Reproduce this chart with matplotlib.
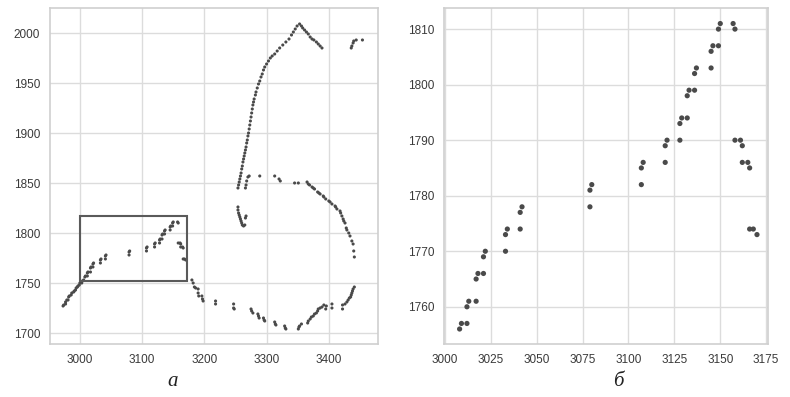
import matplotlib
matplotlib.use("Agg")
import matplotlib.pyplot as plt
from matplotlib.patches import Rectangle

# ---- data: contour points inside the zoom box (panel б) ----
box_x = [3008, 3009, 3012, 3012, 3013, 3017, 3017, 3018, 3021, 3021, 3022, 3033, 3033,
         3034, 3041, 3041, 3042, 3079, 3079, 3080, 3107, 3107, 3108, 3120, 3120, 3121,
         3128, 3128, 3129, 3132, 3132, 3133, 3136, 3136, 3137, 3145, 3145, 3146, 3149,
         3149, 3150, 3157, 3158, 3158, 3161, 3162, 3162, 3165, 3166, 3166, 3168, 3170]
box_y = [1756, 1757, 1757, 1760, 1761, 1761, 1765, 1766, 1766, 1769, 1770, 1770, 1773,
         1774, 1774, 1777, 1778, 1778, 1781, 1782, 1782, 1785, 1786, 1786, 1789, 1790,
         1790, 1793, 1794, 1794, 1798, 1799, 1799, 1802, 1803, 1803, 1806, 1807, 1807,
         1810, 1811, 1811, 1810, 1790, 1790, 1789, 1786, 1786, 1785, 1774, 1774, 1773]

# ---- remaining contour points (panel а) ----
low_left_x = [2973, 2974, 2977, 2977, 2979, 2981, 2982, 2983, 2986, 2987, 2990, 2991,
              2993, 2994, 2996, 2997, 2999, 3000, 3003, 3004, 3006]
low_left_y = [1727, 1728, 1729, 1731, 1733, 1733, 1736, 1737, 1738, 1740, 1741, 1742,
              1743, 1745, 1746, 1747, 1748, 1750, 1750, 1752, 1753]

bottom_x = [3180, 3182, 3184, 3186, 3190, 3190, 3191, 3196, 3197, 3198,
            3218, 3218, 3247, 3247, 3248, 3275, 3276, 3278, 3286, 3287, 3288, 3295,
            3296, 3297, 3313, 3314, 3315, 3329, 3330, 3331, 3351, 3352, 3353, 3356,
            3366, 3367, 3370, 3372, 3375, 3377, 3380, 3382, 3383, 3386, 3389, 3392,
            3395, 3396, 3405, 3405, 3422, 3422, 3426, 3429, 3431, 3433, 3435, 3436,
            3437, 3438, 3439, 3441]
bottom_y = [1753, 1750, 1746, 1745, 1744, 1740, 1737, 1737, 1734, 1732,
            1732, 1729, 1729, 1725, 1724, 1724, 1722, 1720, 1719, 1717, 1715, 1715,
            1713, 1712, 1711, 1709, 1708, 1707, 1705, 1704, 1704, 1706, 1707, 1709,
            1710, 1712, 1714, 1716, 1717, 1719, 1720, 1722, 1724, 1725, 1726, 1728,
            1724, 1727, 1729, 1725, 1728, 1724, 1729, 1731, 1733, 1735, 1736, 1738,
            1740, 1742, 1744, 1746]

right_arc_x = [3441, 3440, 3439, 3437, 3434, 3432, 3429, 3428, 3426, 3424, 3423, 3421,
               3419, 3418, 3413, 3411, 3410, 3405, 3402, 3400, 3395, 3392, 3391, 3386,
               3384, 3382, 3377, 3375, 3373, 3369, 3367, 3365, 3351, 3345, 3322, 3320,
               3313, 3289, 3272]
right_arc_y = [1776, 1782, 1789, 1792, 1797, 1800, 1803, 1805, 1810, 1812, 1814, 1817,
               1820, 1822, 1824, 1826, 1827, 1829, 1831, 1832, 1834, 1836, 1837, 1839,
               1840, 1841, 1844, 1845, 1846, 1848, 1849, 1851, 1850, 1850, 1852, 1854,
               1857, 1857, 1857]

cluster_x = [3254, 3254, 3255, 3256, 3257, 3258, 3259, 3260, 3261, 3263, 3265, 3266, 3267,
             3266, 3267, 3268, 3270]
cluster_y = [1826, 1823, 1820, 1818, 1816, 1814, 1812, 1810, 1808, 1807, 1808, 1815, 1817,
             1845, 1848, 1852, 1856]

big_arc_x = [3254, 3255, 3256, 3257, 3258, 3259, 3260, 3261, 3262, 3263, 3264, 3265, 3266,
             3267, 3268, 3269, 3270, 3271, 3272, 3273, 3274, 3275, 3276, 3277, 3278, 3279,
             3280, 3282, 3283, 3285, 3287, 3289, 3291, 3293, 3295, 3297, 3300, 3303, 3306,
             3309, 3313, 3317, 3321, 3326, 3331, 3336, 3340, 3343, 3346, 3349, 3353,
             3356, 3358, 3361, 3364, 3367, 3370, 3373, 3376, 3380, 3383, 3386, 3389]
big_arc_y = [1845, 1848, 1851, 1854, 1857, 1860, 1864, 1867, 1871, 1874, 1877, 1880, 1883,
             1886, 1890, 1893, 1897, 1900, 1904, 1908, 1912, 1916, 1920, 1924, 1928, 1931,
             1934, 1938, 1941, 1945, 1949, 1952, 1956, 1959, 1963, 1966, 1969, 1972, 1975,
             1977, 1979, 1982, 1985, 1988, 1991, 1994, 1998, 2001, 2004, 2007, 2009,
             2007, 2005, 2003, 2001, 1999, 1996, 1994, 1993, 1991, 1989, 1987, 1985]

far_right_x = [3436, 3437, 3439, 3440, 3444, 3454]
far_right_y = [1985, 1987, 1990, 1992, 1993, 1993]

box_rect = (3000, 1752, 3172, 1817)   # x0, y0, x1, y1 of the zoom frame

left_xticks = [3000, 3100, 3200, 3300, 3400]
left_yticks = [1700, 1750, 1800, 1850, 1900, 1950, 2000]
right_xticks = [3000, 3025, 3050, 3075, 3100, 3125, 3150, 3175]
right_yticks = [1760, 1770, 1780, 1790, 1800, 1810]
panel_labels = ["а", "б"]

# ---- style ----
plt.rcParams['font.family'] = ['Liberation Sans', 'DejaVu Sans']
DOT = '#4a4a4a'
GRID = '#dcdcdc'
SPINE = '#cfcfcf'

fig = plt.figure(figsize=(7.9, 3.97), dpi=100)
axL = fig.add_axes([50/790, 53/397, 328/790, 336/397])
axR = fig.add_axes([444/790, 53/397, 324/790, 336/397])

def style(ax):
    ax.set_facecolor('white')
    ax.grid(True, color=GRID, linewidth=1.0)
    ax.set_axisbelow(True)
    for s in ax.spines.values():
        s.set_color(SPINE)
        s.set_linewidth(1.2)
    ax.tick_params(length=0, pad=7, labelsize=8.5, labelcolor='#3a3a3a')

all_x = low_left_x + box_x + bottom_x + right_arc_x + cluster_x + big_arc_x + far_right_x
all_y = low_left_y + box_y + bottom_y + right_arc_y + cluster_y + big_arc_y + far_right_y

style(axL)
axL.scatter(all_x, all_y, s=5, color=DOT, edgecolors='none', zorder=3)
x0, y0, x1, y1 = box_rect
axL.add_patch(Rectangle((x0, y0), x1 - x0, y1 - y0, fill=False,
                        edgecolor='#5a5a5a', linewidth=1.5, zorder=4))
axL.set_xlim(2952, 3479)
axL.set_ylim(1689, 2025)
axL.set_xticks(left_xticks)
axL.set_yticks(left_yticks)

style(axR)
axR.scatter(box_x, box_y, s=14, color=DOT, edgecolors='none', zorder=3)
axR.set_xlim(2999.5, 3176)
axR.set_ylim(1753.3, 1813.8)
axR.set_xticks(right_xticks)
axR.set_yticks(right_yticks)

fig.text(173/790, 1 - 382/397, panel_labels[0], ha='center', va='center',
         fontsize=15, style='italic', family=['Liberation Serif', 'DejaVu Serif'], color='#222222')
fig.text(618/790, 1 - 382/397, panel_labels[1], ha='center', va='center',
         fontsize=15, style='italic', family=['Liberation Serif', 'DejaVu Serif'], color='#222222')

fig.savefig('out.png', dpi=100, facecolor='white')
